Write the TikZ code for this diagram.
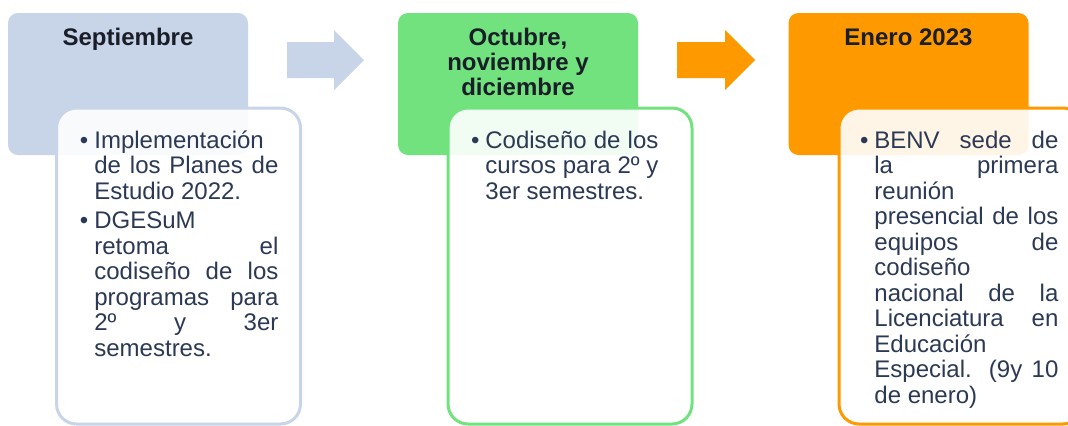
\documentclass[tikz,border=0pt]{standalone}
\usepackage{fontspec}
\setmainfont{Liberation Sans}
\usepackage{tikz}
\usetikzlibrary{positioning}
\definecolor{mgray}{RGB}{200, 212, 232}
\definecolor{mgreen}{RGB}{113, 226, 126}
\definecolor{morange}{RGB}{255, 153, 0}
\definecolor{mtext}{RGB}{43, 57, 85}
\definecolor{mhead}{RGB}{26, 30, 40}
\tikzset{headbox/.style = {rounded corners = 5pt, inner sep = 0, minimum width = 120pt, minimum height = 71pt}}
\tikzset{bodybox/.style = {draw, line width = 1.5pt, fill = white, fill opacity = 0.9, rounded corners = 10pt, inner sep = 0, minimum width = 122pt, minimum height = 158pt}}
\tikzset{headtext/.style = {inner sep = 0, align = center, text = mhead, font = \fontsize{12}{12.5}\selectfont\bfseries}}
\tikzset{bodytext/.style = {inner sep = 0, align = justify, text = mtext, font = \fontsize{12}{12.75}\selectfont}}
\newcommand{\bul}{\leavevmode\llap{\textbullet\kern3pt}}
\newcommand{\nextbul}{\par\vspace{2pt}\bul}

\begin{document}
\begin{tikzpicture}[x = 0.5pt, y = -0.5pt]
      \useasboundingbox (0, 0) rectangle (1068, 425);

      \node [headbox, fill = mgray] (sep) at (128, 84) {};
      \node [headbox, fill = mgreen] (oct) at (518, 84) {};
      \node [headbox, fill = morange] (ene) at (908.5, 84) {};

      \fill [mgray] (287, 42) -- (334, 42) -- (334, 30) -- (364, 60) -- (334, 90) -- (334, 78) -- (287, 78) -- cycle;
      \fill [morange] (677, 42) -- (725, 42) -- (725, 30) -- (755, 60) -- (725, 90) -- (725, 78) -- (677, 78) -- cycle;

      \node [bodybox, draw = mgray] (sepb) at (178.5, 266) {};
      \node [bodybox, draw = mgreen] (octb) at (570, 266) {};
      \node [bodybox, draw = morange] (eneb) at (961, 266) {};

      \node [headtext, anchor = base] (sept) at (128, 45) {Septiembre};
      \node [headtext, anchor = base] (octt) at (518, 95) {Octubre,\\noviembre y\\diciembre};
      \node [headtext, anchor = base] (enet) at (908.5, 45) {Enero 2023};

      \node [bodytext, text width = 92pt, anchor = base west] (sepl) at (94, 148)
        {\bul Implementación\linebreak de los Planes de\linebreak Estudio 2022.%
         \nextbul DGESuM\linebreak retoma el\linebreak codiseño de los\linebreak programas para\linebreak 2º y 3er\linebreak semestres.};
      \node [bodytext, text width = 86.5pt, anchor = base west] (octl) at (485, 148)
        {\bul Codiseño de los\linebreak cursos para 2º y\linebreak 3er semestres.};
      \node [bodytext, text width = 92pt, anchor = base west] (enel) at (874, 148)
        {\bul BENV sede de\linebreak la primera\linebreak reunión\linebreak presencial de los\linebreak equipos de\linebreak codiseño\linebreak nacional de la\linebreak Licenciatura en\linebreak Educación\linebreak Especial. (9y 10\linebreak de enero)};
    \end{tikzpicture}
\end{document}
